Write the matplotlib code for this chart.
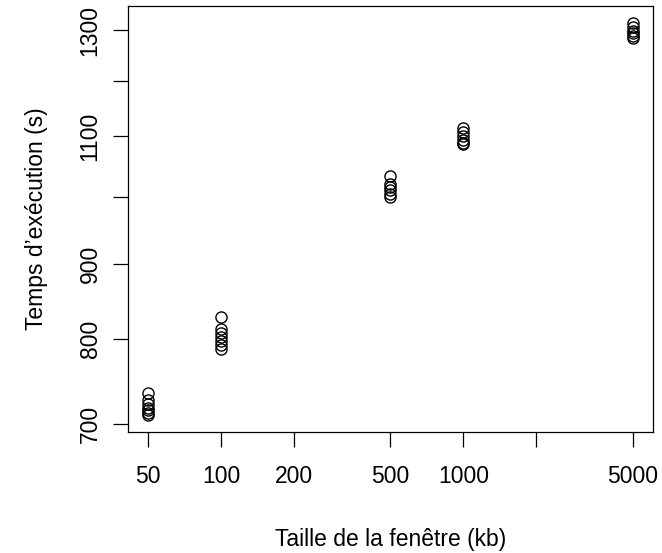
import matplotlib
matplotlib.use("Agg")
import matplotlib.pyplot as plt
from matplotlib.ticker import NullFormatter, NullLocator

plt.rcParams['font.family'] = ['Liberation Sans', 'DejaVu Sans']

window_kb = [50, 100, 500, 1000, 5000]
times = {
    50: [735, 727, 722, 718, 715, 712, 710],
    100: [828, 813, 808, 803, 798, 793, 788],
    500: [1034, 1021, 1016, 1011, 1005, 1000],
    1000: [1115, 1108, 1101, 1094, 1089, 1086],
    5000: [1315, 1307, 1299, 1293, 1287, 1283],
}
x_ticks = [50, 100, 200, 500, 1000, 2000, 5000]
x_labels = ['50', '100', '200', '500', '1000', '', '5000']
y_ticks = [700, 800, 900, 1000, 1100, 1200, 1300]
y_labels = ['700', '800', '900', '', '1100', '', '1300']

fig = plt.figure(figsize=(6.62, 5.53), dpi=100)
ax = fig.add_axes([128/662, 1 - 432/553, (653-128)/662, (432-6)/553])

xs, ys = [], []
for w in window_kb:
    for t in times[w]:
        xs.append(w)
        ys.append(t)
ax.plot(xs, ys, linestyle='none', marker='o', markerfacecolor='none',
        markeredgecolor='black', markersize=8, markeredgewidth=1.0)

ax.set_xscale('log')
ax.set_yscale('log')
ax.set_xlim(41.4, 6046)
ax.set_ylim(691.2, 1350)

ax.xaxis.set_minor_locator(NullLocator())
ax.yaxis.set_minor_locator(NullLocator())
ax.xaxis.set_minor_formatter(NullFormatter())
ax.yaxis.set_minor_formatter(NullFormatter())
ax.set_xticks(x_ticks)
ax.set_xticklabels(x_labels)
ax.set_yticks(y_ticks)
ax.set_yticklabels(y_labels, rotation=90, va='center')

ax.tick_params(axis='both', length=11, width=0.9, labelsize=16.5, color='black')
ax.tick_params(axis='x', pad=13)
ax.tick_params(axis='y', pad=8)
for s in ax.spines.values():
    s.set_linewidth(0.9)

ax.set_xlabel('Taille de la fenêtre (kb)', fontsize=16.5)
ax.set_ylabel('Temps d’exécution (s)', fontsize=16.5)
ax.xaxis.set_label_coords(0.5, -0.226)
ax.yaxis.set_label_coords(-0.153, 0.5)

fig.savefig('out.png', dpi=100)
